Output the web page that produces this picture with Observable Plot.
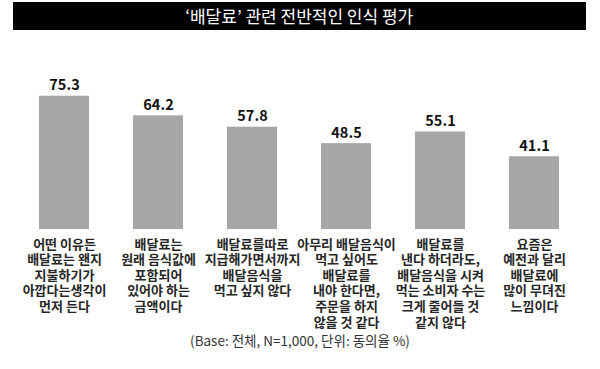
<!DOCTYPE html>
<html>
<head>
<meta charset="utf-8">
<script src="https://cdn.jsdelivr.net/npm/d3@7"></script>
<script src="https://cdn.jsdelivr.net/npm/@observablehq/plot@0.6"></script>
<style>
  html, body { margin: 0; padding: 0; background: #fff; }
  body { width: 600px; height: 369px; overflow: hidden; font-family: "Noto Sans CJK KR", "Noto Sans", sans-serif; }
  #title { margin: 2px 14px 0 12.5px; height: 28px; line-height: 28px; background: #000; color: #fff; text-align: center; font-size: 17px; font-weight: 400; }
  #chart svg { display: block; }
  #note { text-align: center; font-size: 13.5px; line-height: 18px; color: #333; margin-top: 1px; }
</style>
</head>
<body>
<div id="title">‘배달료’ 관련 전반적인 인식 평가</div>
<div id="chart"></div>
<div id="note">(Base: 전체, N=1,000, 단위: 동의율 %)</div>
<script>
const categories = [
  "어떤 이유든\n배달료는 왠지\n지불하기가\n아깝다는생각이\n먼저 든다",
  "배달료는\n원래 음식값에\n포함되어\n있어야 하는\n금액이다",
  "배달료를따로\n지급해가면서까지\n배달음식을\n먹고 싶지 않다",
  "아무리 배달음식이\n먹고 싶어도\n배달료를\n내야 한다면,\n주문을 하지\n않을 것 같다",
  "배달료를\n낸다 하더라도,\n배달음식을 시켜\n먹는 소비자 수는\n크게 줄어들 것\n같지 않다",
  "요즘은\n예전과 달리\n배달료에\n많이 무뎌진\n느낌이다"
];
const values = [75.3, 64.2, 57.8, 48.5, 55.1, 41.1];

const data = categories.map((c, i) => ({category: c, value: values[i]}));

const chart = Plot.plot({
  width: 600,
  height: 300,
  marginTop: 22,
  marginBottom: 101,
  marginLeft: 14.5,
  marginRight: 16,
  x: {domain: categories, paddingInner: 0.47, paddingOuter: 0.235, axis: null},
  y: {domain: [0, 100], axis: null},
  style: {fontFamily: "'Noto Sans CJK KR', sans-serif", background: "#fff"},
  marks: [
    Plot.barY(data, {x: "category", y: "value", fill: "#a6a6a6"}),
    Plot.text(data, {x: "category", y: "value", text: d => d.value.toFixed(1), lineAnchor: "bottom", dy: -6, fontSize: 14.5, fontWeight: "bold", fill: "#111"}),
    Plot.text(data, {x: "category", y: 0, text: "category", lineAnchor: "top", dy: 8, fontSize: 13, lineHeight: 1.2, fontWeight: "bold", fill: "#262626"})
  ]
});
document.getElementById("chart").appendChild(chart);
</script>
</body>
</html>
